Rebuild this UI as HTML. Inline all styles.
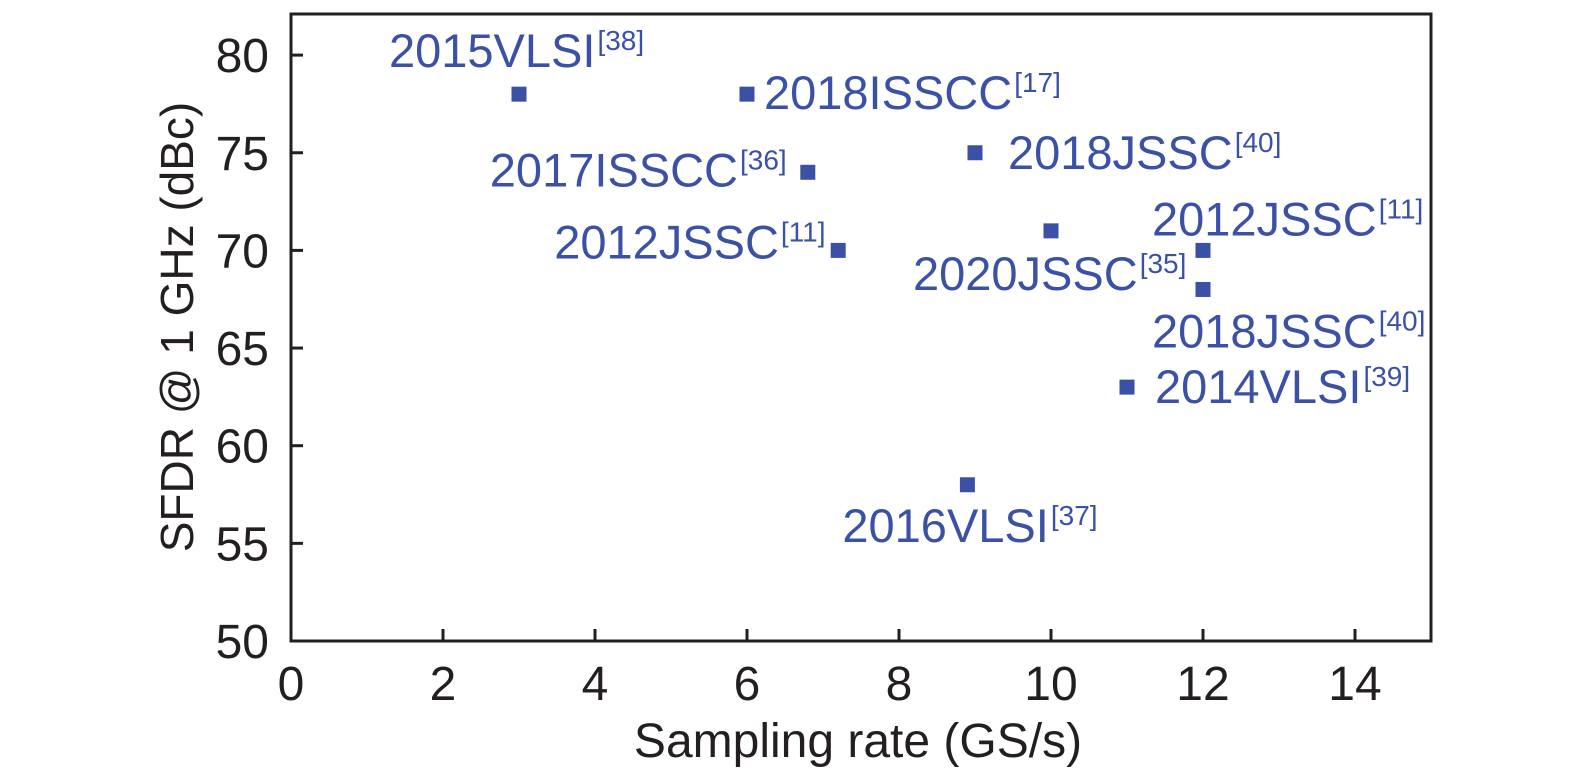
<!DOCTYPE html>
<html><head><meta charset="utf-8"><style>
html,body{margin:0;padding:0;background:#fff}
svg{display:block}
text{font-family:"Liberation Sans",sans-serif}
</style></head><body>
<svg id="chart" width="1575" height="778" viewBox="0 0 1575 778" xmlns="http://www.w3.org/2000/svg"></svg>
<script>
const xVals=[3,6,6.8,9,7.2,10,12,12,11,8.9];
const yVals=[78,78,74,75,70,71,70,68,63,58];
const labelMain=["2015VLSI","2018ISSCC","2017ISSCC","2018JSSC","2012JSSC","2020JSSC","2012JSSC","2018JSSC","2014VLSI","2016VLSI"];
const labelRef=["[38]","[17]","[36]","[40]","[11]","[35]","[11]","[40]","[39]","[37]"];
const xTicks=[0,2,4,6,8,10,12,14];
const yTicks=[50,55,60,65,70,75,80];
// label placement offsets relative to marker (layout, not data)
const labelDx=[-130,17,-318,33,-284,-138,-51,-51,28,-125];
const labelDy=[-27,15,14,16,8,59,-15,58,16,57];

const svg=document.getElementById('chart');
const NS='http://www.w3.org/2000/svg';
const X0=291,X1=1431,Y0=641,Y1=14;
const xs=v=>X0+(v-0)/(15-0)*(X1-X0);
const ys=v=>Y0-(v-50)*19.53;
const BLUE='#3a51a6', INK='#231f20';
function mk(tag,attrs,parent){const e=document.createElementNS(NS,tag);for(const k in attrs)e.setAttribute(k,attrs[k]);(parent||svg).appendChild(e);return e;}

const frame=mk('rect',{x:X0,y:Y1,width:X1-X0,height:Y0-Y1,fill:'none',stroke:INK,'stroke-width':3});



xTicks.forEach(t=>{
  const x=xs(t);
  const l=mk('line',{x1:x,x2:x,y1:Y0,y2:Y0-12,stroke:INK,'stroke-width':3});
  
  
  const tx=mk('text',{x:x,y:700,'font-size':48,'text-anchor':'middle',fill:INK});
  tx.textContent=t;
  
  
});
yTicks.forEach(t=>{
  const y=ys(t);
  const l=mk('line',{x1:X0,x2:X0+12,y1:y,y2:y,stroke:INK,'stroke-width':3});
  
  
  const tx=mk('text',{x:269,y:y+17,'font-size':48,'text-anchor':'end',fill:INK});
  tx.textContent=t;
  
  
});

const xt=mk('text',{x:858,y:757,'font-size':48,'text-anchor':'middle',fill:INK});
xt.textContent='Sampling rate (GS/s)';


const yt=mk('text',{x:0,y:0,'font-size':46,'text-anchor':'middle',fill:INK,transform:'translate(193,327) rotate(-90)'});
yt.textContent='SFDR @ 1 GHz (dBc)';



xVals.forEach((xv,i)=>{
  const cx=xs(xv),cy=ys(yVals[i]);
  const r=mk('rect',{x:cx-7.5,y:cy-7.5,width:15,height:15,fill:BLUE});
  
  
  const t=mk('text',{x:cx+labelDx[i],y:cy+labelDy[i],'font-size':47,fill:BLUE});
  
  
  const s1=mk('tspan',{},t); s1.textContent=labelMain[i];
  const s2=mk('tspan',{dx:2,dy:-17,'font-size':28},t); s2.textContent=labelRef[i];
});
</script>
</body></html>
